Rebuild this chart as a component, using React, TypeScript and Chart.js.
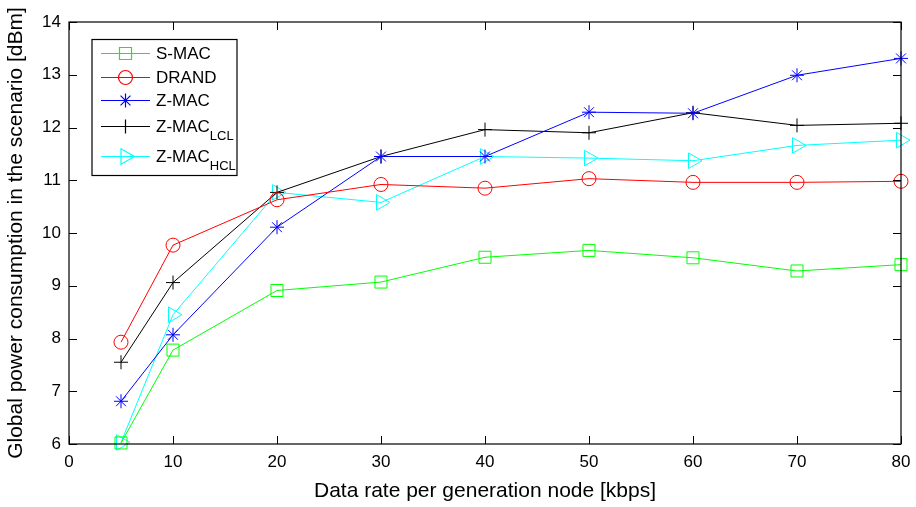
import React, { useEffect, useRef } from "react";
import { Chart, registerables } from "chart.js";
import { drawPoint } from "chart.js/helpers";

Chart.register(...registerables);

const rates = [5, 10, 20, 30, 40, 50, 60, 70, 80];
const sMac = [6.02, 7.78, 8.91, 9.07, 9.54, 9.67, 9.53, 9.28, 9.4];
const drand = [7.93, 9.77, 10.63, 10.92, 10.85, 11.03, 10.96, 10.96, 10.98];
const zMac = [6.81, 8.07, 10.11, 11.45, 11.45, 12.29, 12.27, 12.99, 13.31];
const zMacLcl = [7.55, 9.06, 10.77, 11.45, 11.96, 11.9, 12.28, 12.04, 12.08];
const zMacHcl = [6.03, 8.45, 10.77, 10.58, 11.45, 11.42, 11.37, 11.66, 11.76];

const seriesNames = ["S-MAC", "DRAND", "Z-MAC", "Z-MAC", "Z-MAC"];
const seriesSubs = ["", "", "", "LCL", "HCL"];
const seriesColors = ["#00ff00", "#ff0000", "#0000ff", "#000000", "#00ffff"];
const seriesShapes = ["rect", "circle", "star", "cross", "triangle"];
const seriesRadius = [8.5, 7, 7, 7, 9];
const seriesRotation = [0, 0, 0, 0, 90];
const seriesValues = [sMac, drand, zMac, zMacLcl, zMacHcl];

const xTitle = "Data rate per generation node [kbps]";
const yTitle = "Global power consumption in the scenario [dBm]";

const FONT = "'Liberation Sans', Arial, Helvetica, sans-serif";

const frame = {
  id: "frame",
  afterDraw(chart: any) {
    const { ctx, chartArea: a } = chart;
    ctx.save();
    ctx.strokeStyle = "#000";
    ctx.lineWidth = 1;
    const L = 8;
    const xs = chart.scales.x;
    const ys = chart.scales.y;
    ctx.beginPath();
    xs.ticks.forEach((t: any) => {
      const px = Math.round(xs.getPixelForValue(t.value)) + 0.5;
      ctx.moveTo(px, a.bottom);
      ctx.lineTo(px, a.bottom - L);
      ctx.moveTo(px, a.top);
      ctx.lineTo(px, a.top + L);
    });
    ys.ticks.forEach((t: any) => {
      const py = Math.round(ys.getPixelForValue(t.value)) + 0.5;
      ctx.moveTo(a.left, py);
      ctx.lineTo(a.left + L, py);
      ctx.moveTo(a.right, py);
      ctx.lineTo(a.right - L, py);
    });
    ctx.stroke();
    ctx.lineWidth = 1.2;
    ctx.strokeRect(a.left, a.top, a.right - a.left, a.bottom - a.top);

    // legend
    const bx = 92, by = 39.5, bw = 145, bh = 136;
    ctx.fillStyle = "#fff";
    ctx.fillRect(bx, by, bw, bh);
    ctx.strokeStyle = "#000";
    ctx.lineWidth = 1.2;
    ctx.strokeRect(bx, by, bw, bh);
    const rowsY = [53, 77, 100, 126, 156];
    seriesNames.forEach((name, i) => {
      const y = rowsY[i];
      ctx.strokeStyle = seriesColors[i];
      ctx.lineWidth = 1.2;
      ctx.beginPath();
      ctx.moveTo(101, y + 0.5);
      ctx.lineTo(150, y + 0.5);
      ctx.stroke();
      ctx.fillStyle = "rgba(255,255,255,0)";
      ctx.strokeStyle = seriesColors[i];
      ctx.lineWidth = 1.2;
      drawPoint(ctx, {
        pointStyle: seriesShapes[i],
        radius: seriesRadius[i],
        rotation: seriesRotation[i],
        borderWidth: 1.2,
      } as any, 125.5, y + 0.5);
      ctx.fillStyle = "#000";
      ctx.textBaseline = "middle";
      ctx.textAlign = "left";
      ctx.font = `17px ${FONT}`;
      ctx.fillText(name, 156, y + 1);
      if (seriesSubs[i]) {
        const w = ctx.measureText(name).width;
        ctx.font = `13px ${FONT}`;
        ctx.fillText(seriesSubs[i], 156 + w, y + 10);
      }
    });
    ctx.restore();
  },
};

export default function App() {
  const ref = useRef<HTMLCanvasElement>(null);
  useEffect(() => {
    document.body.style.margin = "0";
    const datasets = seriesNames.map((n, i) => ({
      label: n + seriesSubs[i],
      data: rates.map((r, j) => ({ x: r, y: seriesValues[i][j] })),
      borderColor: seriesColors[i],
      backgroundColor: "transparent",
      borderWidth: 1,
      pointStyle: seriesShapes[i] as any,
      pointRadius: seriesRadius[i],
      pointRotation: seriesRotation[i],
      pointBorderColor: seriesColors[i],
      pointBackgroundColor: "transparent",
      pointBorderWidth: 1,
      tension: 0,
      clip: false as any,
    }));
    const chart = new Chart(ref.current!, {
      type: "line",
      data: { datasets },
      options: {
        animation: false,
        responsive: true,
        maintainAspectRatio: false,
        layout: { padding: { top: 22, right: 15, left: 0, bottom: 0 } },
        plugins: { legend: { display: false }, tooltip: { enabled: false } },
        scales: {
          x: {
            type: "linear",
            min: 0,
            max: 80,
            ticks: { stepSize: 10, color: "#000", padding: 8, font: { family: FONT, size: 17 } },
            grid: { display: false, drawTicks: false },
            border: { display: false },
            title: { display: true, text: xTitle, color: "#000", font: { family: FONT, size: 21 }, padding: { top: 4, bottom: 3 } },
            afterFit: (s: any) => { s.height = 63; s.paddingRight = 0; s.paddingLeft = 0; },
          },
          y: {
            min: 6,
            max: 14,
            ticks: { stepSize: 1, color: "#000", padding: 8, font: { family: FONT, size: 17 } },
            grid: { display: false, drawTicks: false },
            border: { display: false },
            title: { display: true, text: yTitle, color: "#000", font: { family: FONT, size: 21 }, padding: { top: 4, bottom: 4 } },
            afterFit: (s: any) => { s.width = 69; s.paddingTop = 0; s.paddingBottom = 0; },
          },
        },
      },
      plugins: [frame],
    });
    return () => chart.destroy();
  }, []);
  return (
    <div style={{ width: 916, height: 507, position: "relative", background: "#fff" }}>
      <canvas ref={ref} />
    </div>
  );
}
